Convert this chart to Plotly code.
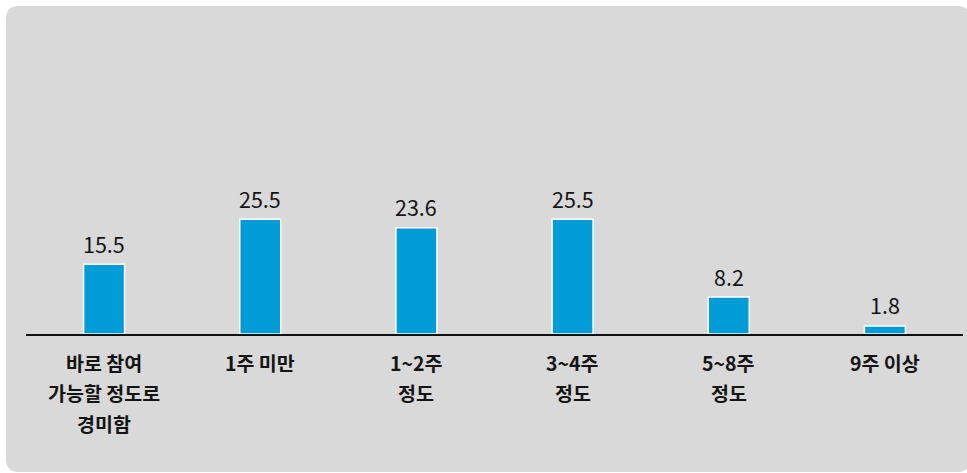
import plotly.graph_objects as go

categories = ["바로 참여<br>가능할 정도로<br>경미함", "1주 미만", "1~2주<br>정도", "3~4주<br>정도", "5~8주<br>정도", "9주 이상"]
values = [15.5, 25.5, 23.6, 25.5, 8.2, 1.8]

W, H = 967, 473
L, R_ = 26, 963          # plot area x in px
TOP, BOT = 109, 334      # plot area y in px
FONT = "Noto Sans CJK KR"
TXT = "#141414"

fig = go.Figure()
fig.add_trace(go.Bar(
    x=list(range(len(categories))), y=values,
    marker=dict(color="#009cd7", line=dict(color="white", width=1.5)),
    hoverinfo="skip",
))

# value labels
for i, v in enumerate(values):
    fig.add_annotation(x=i, y=v, xref="x", yref="y", text=f"{v:.1f}",
                       showarrow=False, yanchor="middle", yshift=21,
                       font=dict(family=FONT, size=21.5, color=TXT))

# category labels (one annotation per line for wider line spacing)
for i, c in enumerate(categories):
    for j, line in enumerate(c.split("<br>")):
        fig.add_annotation(x=i, y=0, xref="x", yref="y", text=f"<b>{line}</b>",
                           showarrow=False, yanchor="middle", yshift=-28 - 30.5 * j,
                           font=dict(family=FONT, size=19.5, color=TXT))

# card background (rounded rectangle) in paper coords
pw, ph = R_ - L, BOT - TOP
def px(x):
    return (x - L) / pw
def py(y):
    return (BOT - y) / ph
x0, x1, y0, y1, r = 6, 970, 6, 472, 13
path = (f"M {px(x0)},{py(y0 + r)} Q {px(x0)},{py(y0)} {px(x0 + r)},{py(y0)} "
        f"L {px(x1 - r)},{py(y0)} Q {px(x1)},{py(y0)} {px(x1)},{py(y0 + r)} "
        f"L {px(x1)},{py(y1 - r)} Q {px(x1)},{py(y1)} {px(x1 - r)},{py(y1)} "
        f"L {px(x0 + r)},{py(y1)} Q {px(x0)},{py(y1)} {px(x0)},{py(y1 - r)} Z")
fig.add_shape(type="path", path=path, xref="paper", yref="paper",
              fillcolor="#d9d9d9", line=dict(width=0), layer="below")

fig.update_layout(
    width=W, height=H,
    margin=dict(l=L, r=W - R_, t=TOP, b=H - BOT, pad=0),
    paper_bgcolor="white", plot_bgcolor="rgba(0,0,0,0)",
    bargap=0.7375, showlegend=False,
    font=dict(family=FONT, color=TXT),
    xaxis=dict(range=[-0.5, len(categories) - 0.5], showticklabels=False, ticks="",
               showgrid=False, zeroline=False, showline=True, linecolor="#111111", linewidth=2,
               fixedrange=True),
    yaxis=dict(range=[0, 50], visible=False, showgrid=False, zeroline=False, fixedrange=True),
)

fig.write_html("out.html", config={"displayModeBar": False},
               post_script="document.body.style.margin='0';")
